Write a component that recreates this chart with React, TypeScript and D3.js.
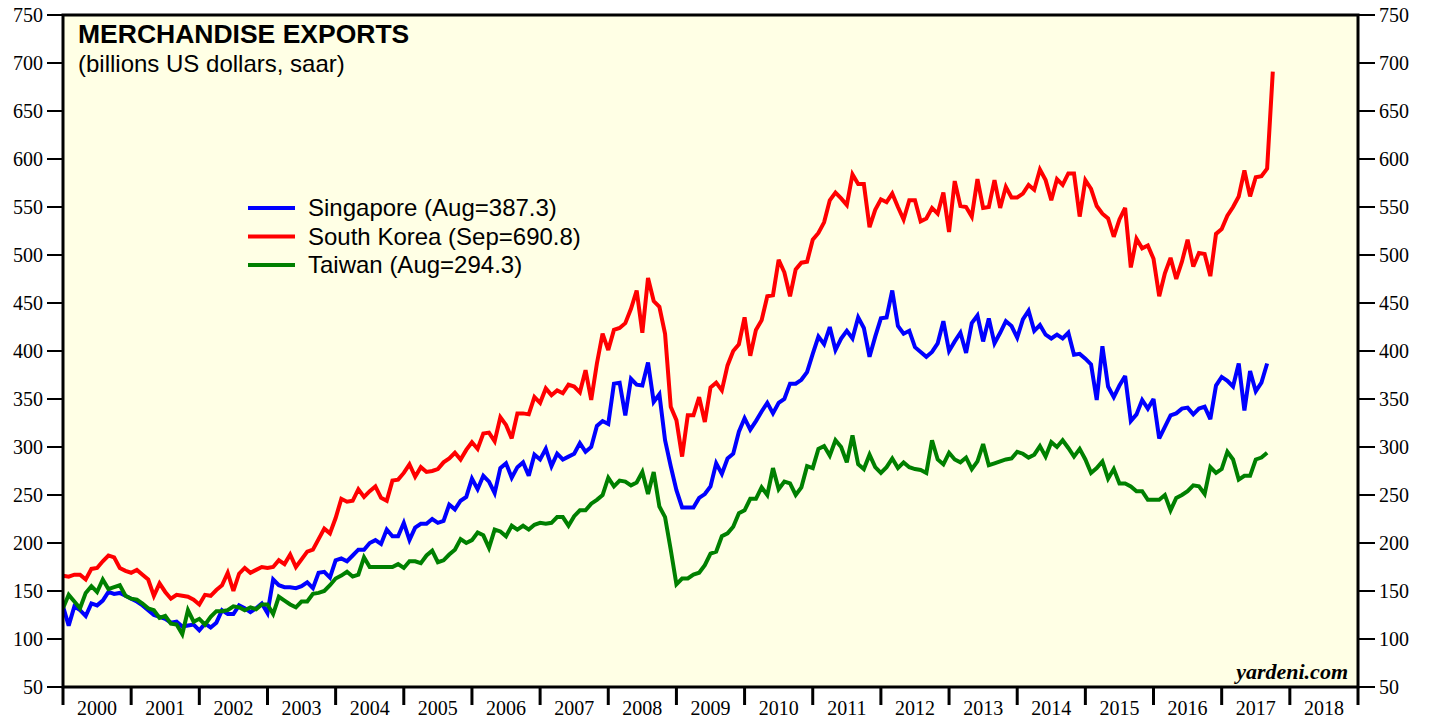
import React from "react";
import * as d3 from "d3";

// monthly values, billions US$ saar, first point Jan 2000
const singapore = [
  134, 114, 134, 130, 124, 137, 135, 140, 149, 147, 148, 145,
  142, 139, 135, 130, 125, 123, 121, 117, 118, 113, 114, 115,
  109, 116, 112, 117, 130, 126, 126, 135, 132, 128, 132, 137,
  127, 162, 156, 154, 154, 153, 155, 159, 153, 169, 170, 164,
  182, 184, 181, 187, 193, 193, 200, 203, 199, 214, 207, 207,
  221, 203, 216, 220, 220, 225, 221, 223, 240, 235, 244, 248,
  267, 256, 270, 264, 252, 278, 283, 268, 279, 284, 270, 292,
  287, 298, 280, 293, 287, 290, 293, 304, 295, 300, 322, 327,
  324, 366, 367, 333, 371, 365, 364, 388, 347, 355, 307, 280,
  255, 237, 237, 237, 247, 251, 259, 283, 272, 288, 293, 316,
  330, 318, 327, 337, 346, 335, 346, 350, 366, 366, 370, 378,
  397, 415, 407, 425, 401, 413, 421, 413, 435, 424, 394, 415,
  434, 435, 463, 426, 418, 421, 404, 399, 394, 399, 408, 431,
  400, 410, 419, 398, 429, 437, 410, 434, 408, 419, 431, 426,
  414, 433, 442, 421, 427, 417, 413, 417, 413, 419, 396, 397,
  392, 386, 349, 405, 363, 352, 364, 374, 327, 334, 349, 340,
  350, 309, 321, 333, 335, 340, 341, 334, 340, 342, 329, 364,
  373, 369, 363, 387, 338, 379, 358, 367, 387,
];

const southKorea = [
  166, 165, 167, 167, 162, 173, 174, 181, 187, 185, 174, 171,
  169, 172, 167, 162, 145, 158, 149, 142, 146, 145, 144, 141,
  136, 146, 145, 151, 156, 169, 150, 168, 174, 169, 172, 175,
  174, 175, 182, 178, 188, 175, 183, 191, 193, 204, 215, 210,
  226, 246, 243, 244, 256, 248, 254, 259, 247, 244, 265, 266,
  273, 282, 269, 279, 274, 275, 277, 284, 288, 294, 287, 297,
  305, 298, 314, 315, 306, 331, 323, 309, 335, 335, 334, 352,
  346, 361, 354, 359, 356, 365, 363, 357, 380, 349, 387, 418,
  401, 422, 424, 429, 444, 463, 419, 476, 452, 446, 418, 342,
  328, 290, 333, 333, 352, 326, 362, 367, 359, 385, 400, 407,
  435, 395, 422, 432, 457, 458, 495, 482, 457, 485, 492, 493,
  516, 523, 534, 557, 565, 559, 552, 584, 574, 574, 529, 547,
  558, 555, 564, 550, 537, 557, 557, 535, 538, 549, 543, 565,
  524, 577, 551, 550, 540, 579, 549, 550, 578, 549, 571, 560,
  560, 564, 573, 568, 589, 578, 557, 579, 573, 585, 585, 540,
  578, 569, 551, 543, 538, 519, 537, 549, 487, 517, 507, 510,
  496, 457, 481, 497, 475, 493, 516, 488, 502, 501, 478, 522,
  527, 541, 550, 561, 588, 561, 581, 582, 590, 691,
];

const taiwan = [
  132, 146, 139, 132, 148, 155, 149, 162, 152, 154, 156, 145,
  142, 141, 137, 132, 130, 122, 124, 116, 115, 105, 130, 118,
  121, 115, 123, 129, 129, 130, 134, 133, 130, 133, 131, 136,
  136, 126, 144, 140, 136, 133, 139, 139, 147, 148, 150, 156,
  163, 166, 170, 165, 167, 185, 175, 175, 175, 175, 175, 178,
  174, 181, 181, 179, 187, 192, 180, 182, 188, 193, 204, 200,
  203, 211, 208, 195, 214, 212, 207, 218, 214, 218, 214, 219,
  221, 220, 221, 227, 227, 218, 228, 234, 234, 241, 245, 250,
  268, 259, 265, 264, 260, 263, 274, 251, 274, 238, 227, 193,
  157, 163, 163, 167, 169, 177, 189, 191, 207, 210, 217, 231,
  234, 246, 246, 258, 250, 278, 256, 264, 262, 250, 258, 280,
  278, 298, 301, 291, 307, 300, 284, 312, 282, 277, 292, 279,
  273, 279, 288, 278, 284, 279, 277, 276, 273, 307, 287, 282,
  294, 287, 284, 289, 277, 285, 303, 281, 283, 285, 287, 288,
  295, 293, 289, 292, 301, 290, 305, 300, 307, 299, 290, 298,
  287, 273, 278, 285, 267, 277, 262, 262, 259, 254, 254, 245,
  245, 245, 250, 234, 247, 250, 254, 260, 259, 251, 279, 273,
  277, 295, 287, 266, 270, 270, 287, 289, 294,
];

const seriesNames = ["Singapore (Aug=387.3)", "South Korea (Sep=690.8)", "Taiwan (Aug=294.3)"];
const seriesColors = ["#0000ff", "#ff0000", "#008000"];
const years = d3.range(2000, 2019);
const yTicks = d3.range(50, 751, 50);

const serif = "'Liberation Serif', 'Times New Roman', serif";
const sans = "'Liberation Sans', Arial, Helvetica, sans-serif";

const App = () => {
  const left = 63, right = 1358, top = 15, bottom = 687;

  const x = d3.scaleLinear().domain([2000, 2019]).range([left, right]);
  const y = d3.scaleLinear().domain([50, 750]).range([bottom, top]);

  const line = d3
    .line<number>()
    .x((d, i) => x(2000 + i / 12))
    .y((d) => y(d));

  const series = [singapore, southKorea, taiwan];
  // draw order: red under, then blue, green on top
  const drawOrder = [1, 0, 2];

  return (
    <svg
      width={1429}
      height={721}
      style={{ position: "absolute", left: 0, top: 0, background: "#fff" }}
    >
      <defs>
        <clipPath id="plot">
          <rect x={left} y={top} width={right - left} height={bottom - top} />
        </clipPath>
      </defs>

      <rect x={left} y={top} width={right - left} height={bottom - top} fill="#ffffe5" />

      <g clipPath="url(#plot)">
        {drawOrder.map((k) => (
          <path
            key={k}
            d={line(series[k]) || ""}
            fill="none"
            stroke={seriesColors[k]}
            strokeWidth={4}
            strokeLinejoin="miter"
            strokeMiterlimit={3}
          />
        ))}
      </g>

      <rect
        x={left}
        y={top}
        width={right - left}
        height={bottom - top}
        fill="none"
        stroke="#000"
        strokeWidth={3}
      />

      {/* y ticks both sides */}
      {yTicks.map((t) => (
        <g key={t}>
          <line x1={47} x2={left} y1={y(t)} y2={y(t)} stroke="#000" strokeWidth={2} />
          <text x={43} y={y(t) + 7} textAnchor="end" fontFamily={serif} fontSize={20}>
            {t}
          </text>
          <line x1={right} x2={1375} y1={y(t)} y2={y(t)} stroke="#000" strokeWidth={2} />
          <text x={1379} y={y(t) + 7} fontFamily={serif} fontSize={20}>
            {t}
          </text>
        </g>
      ))}

      {/* x ticks at year boundaries, labels centred */}
      {d3.range(2000, 2020).map((yr) => (
        <line
          key={yr}
          x1={x(yr)}
          x2={x(yr)}
          y1={bottom}
          y2={705}
          stroke="#000"
          strokeWidth={3}
        />
      ))}
      {years.map((yr) => (
        <text
          key={yr}
          x={x(yr + 0.5)}
          y={715}
          textAnchor="middle"
          fontFamily={serif}
          fontSize={20}
        >
          {yr}
        </text>
      ))}

      <text x={78} y={43} fontFamily={sans} fontWeight="bold" fontSize={26.5}>
        MERCHANDISE EXPORTS
      </text>
      <text x={78} y={72} fontFamily={sans} fontSize={24}>
        (billions US dollars, saar)
      </text>

      {seriesNames.map((name, k) => {
        const ly = 208 + k * 28.5;
        return (
          <g key={name}>
            <line x1={248} x2={295} y1={ly} y2={ly} stroke={seriesColors[k]} strokeWidth={4} />
            <text x={308} y={ly + 8} fontFamily={sans} fontSize={24}>
              {name}
            </text>
          </g>
        );
      })}

      <text
        x={1348}
        y={679}
        textAnchor="end"
        fontFamily={serif}
        fontWeight="bold"
        fontStyle="italic"
        fontSize={22}
      >
        yardeni.com
      </text>
    </svg>
  );
};

export default App;
